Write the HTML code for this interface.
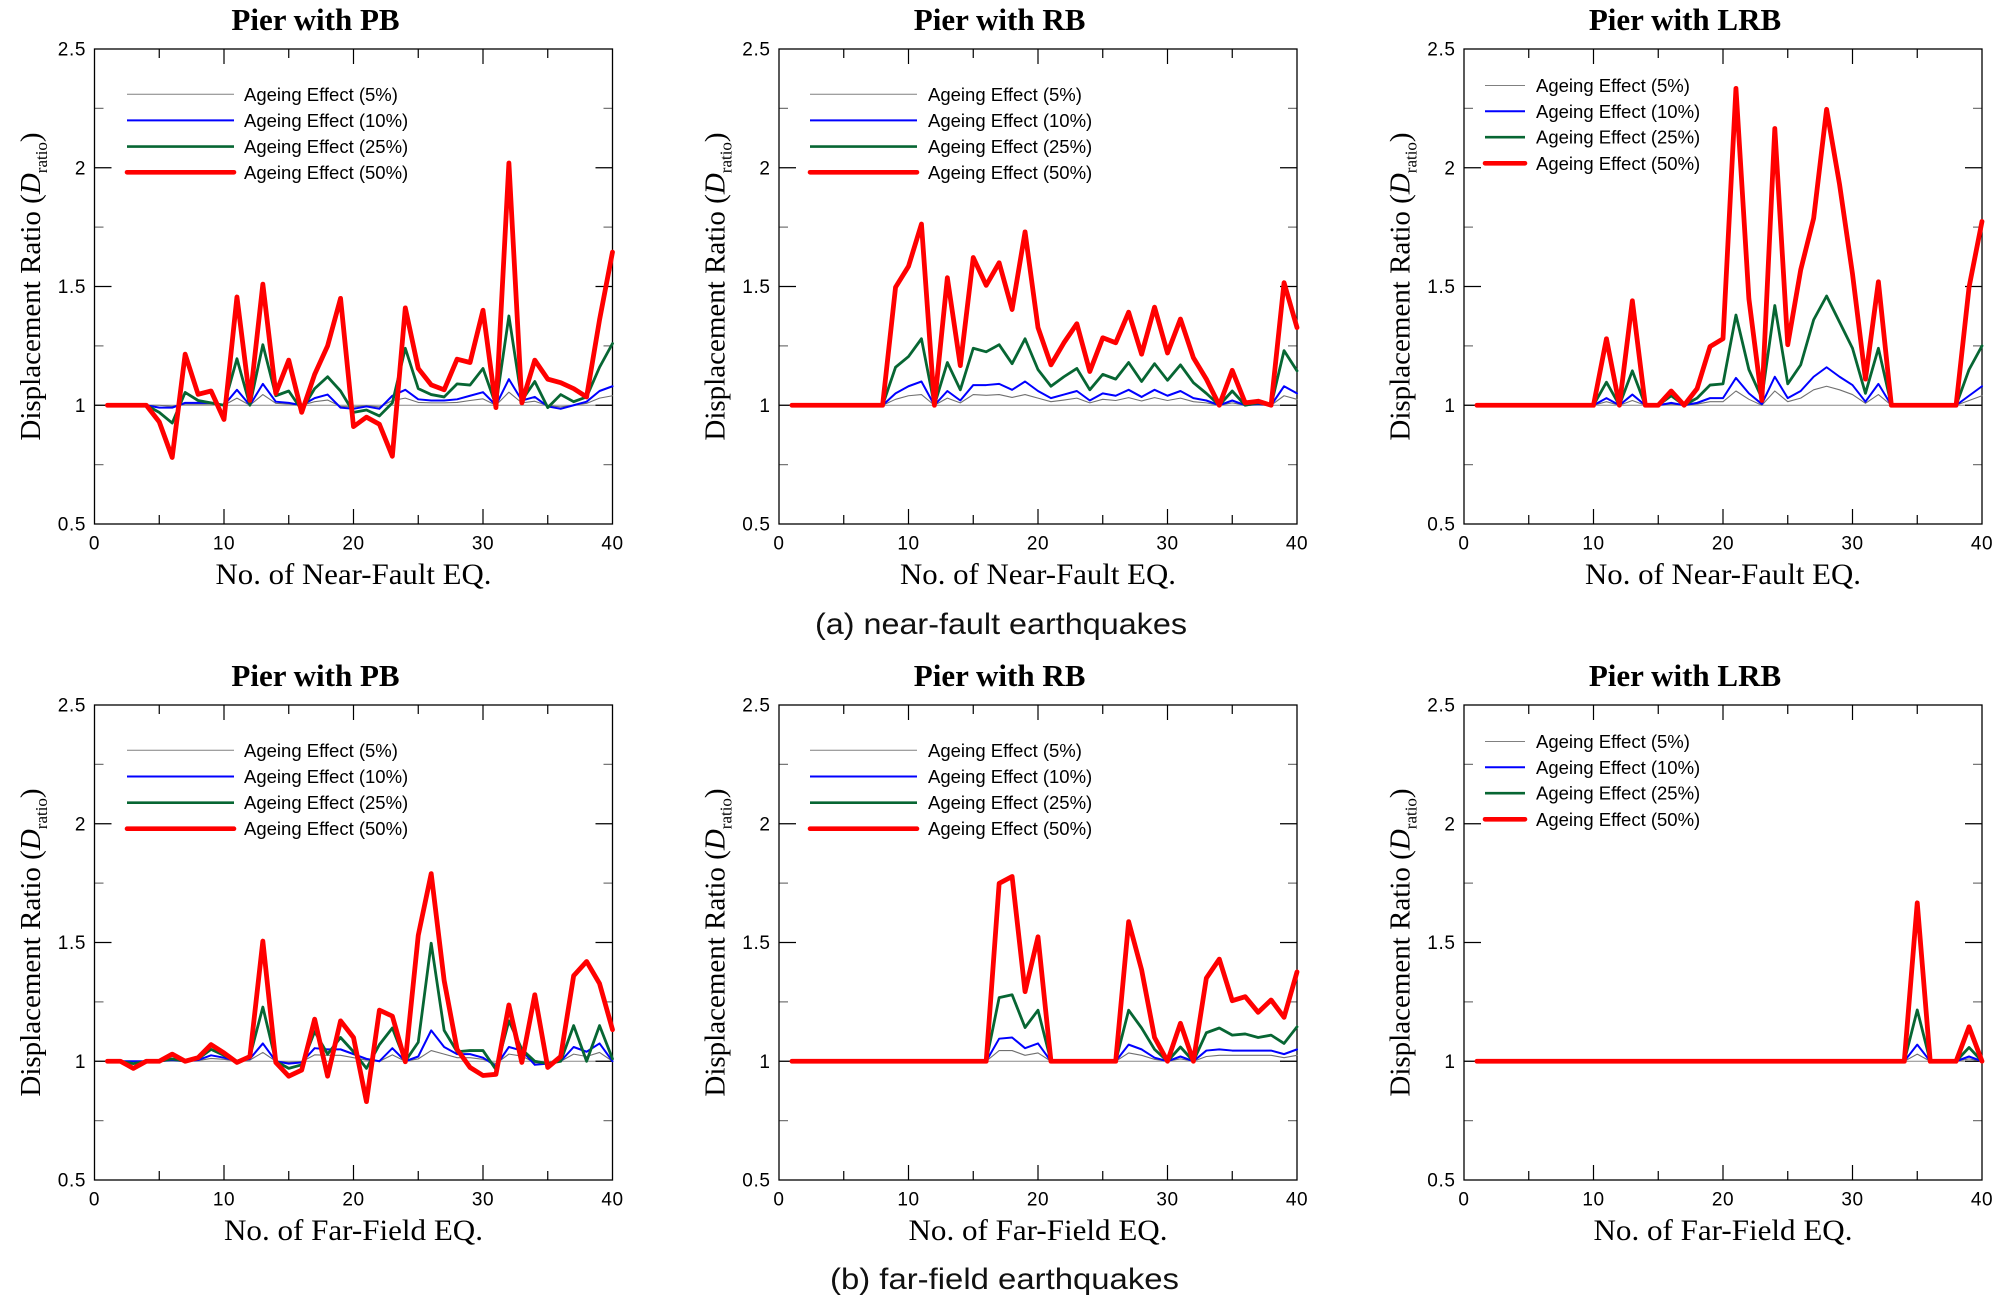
<!DOCTYPE html>
<html>
<head>
<meta charset="utf-8">
<style>
  html,body{margin:0;padding:0;background:#fff;}
  body{width:2008px;height:1297px;overflow:hidden;}
  svg{display:block;}
  .ns{vector-effect:non-scaling-stroke;fill:none;stroke-linejoin:round;stroke-linecap:round;}
  .g5{stroke:#707070;stroke-width:1.1;}
  .b10{stroke:#0000ff;stroke-width:2;}
  .g25{stroke:#076633;stroke-width:2.8;}
  .r50{stroke:#ff0000;stroke-width:4.8;}
  .tick{font-family:"Liberation Sans",Arial,sans-serif;font-size:19px;fill:#000;letter-spacing:0.6px;}
  .leg{font-family:"Liberation Sans",Arial,sans-serif;font-size:18.5px;fill:#000;}
  .ttl{font-family:"Liberation Serif","Times New Roman",serif;font-size:31px;font-weight:bold;fill:#000;}
  .xl{font-family:"Liberation Serif","Times New Roman",serif;font-size:30px;fill:#000;}
  .yl{font-family:"Liberation Serif","Times New Roman",serif;font-size:29px;fill:#000;}
  .cap{font-family:"Liberation Sans",Arial,sans-serif;font-size:30px;fill:#111;}
</style>
</head>
<body>
<svg width="2008" height="1297" viewBox="0 0 2008 1297" xmlns="http://www.w3.org/2000/svg">
<rect x="0" y="0" width="2008" height="1297" fill="#fff"/>

<!-- ============ FRAMES & TICKS ============ -->
<g id="frames" fill="none">
  <!-- top row -->
  <g transform="translate(94.5,49)">
    <path d="M0 356.25H518" stroke="#888" stroke-width="1"/>
    <path d="M129.5 475v-15M259 475v-15M388.5 475v-15M129.5 0v15M259 0v15M388.5 0v15M64.75 475v-9M194.25 475v-9M323.75 475v-9M453.25 475v-9M64.75 0v9M194.25 0v9M323.75 0v9M453.25 0v9M0 118.75h17M0 237.5h17M0 356.25h17M518 118.75h-17M518 237.5h-17M518 356.25h-17" stroke="#000" stroke-width="1.2"/>
    <path d="M0 59.375h9M0 178.125h9M0 296.875h9M0 415.625h9M518 59.375h-9M518 178.125h-9M518 296.875h-9M518 415.625h-9" stroke="#777" stroke-width="1.2"/>
    <rect x="0" y="0" width="518" height="475" stroke="#000" stroke-width="1.3"/>
  </g>
  <g transform="translate(779,49)">
    <path d="M0 356.25H518" stroke="#888" stroke-width="1"/>
    <path d="M129.5 475v-15M259 475v-15M388.5 475v-15M129.5 0v15M259 0v15M388.5 0v15M64.75 475v-9M194.25 475v-9M323.75 475v-9M453.25 475v-9M64.75 0v9M194.25 0v9M323.75 0v9M453.25 0v9M0 118.75h17M0 237.5h17M0 356.25h17M518 118.75h-17M518 237.5h-17M518 356.25h-17" stroke="#000" stroke-width="1.2"/>
    <path d="M0 59.375h9M0 178.125h9M0 296.875h9M0 415.625h9M518 59.375h-9M518 178.125h-9M518 296.875h-9M518 415.625h-9" stroke="#777" stroke-width="1.2"/>
    <rect x="0" y="0" width="518" height="475" stroke="#000" stroke-width="1.3"/>
  </g>
  <g transform="translate(1464,49)">
    <path d="M0 356.25H518" stroke="#888" stroke-width="1"/>
    <path d="M129.5 475v-15M259 475v-15M388.5 475v-15M129.5 0v15M259 0v15M388.5 0v15M64.75 475v-9M194.25 475v-9M323.75 475v-9M453.25 475v-9M64.75 0v9M194.25 0v9M323.75 0v9M453.25 0v9M0 118.75h17M0 237.5h17M0 356.25h17M518 118.75h-17M518 237.5h-17M518 356.25h-17" stroke="#000" stroke-width="1.2"/>
    <path d="M0 59.375h9M0 178.125h9M0 296.875h9M0 415.625h9M518 59.375h-9M518 178.125h-9M518 296.875h-9M518 415.625h-9" stroke="#777" stroke-width="1.2"/>
    <rect x="0" y="0" width="518" height="475" stroke="#000" stroke-width="1.3"/>
  </g>
  <!-- bottom row -->
  <g transform="translate(94.5,705)">
    <path d="M0 356.25H518" stroke="#888" stroke-width="1"/>
    <path d="M129.5 475v-15M259 475v-15M388.5 475v-15M129.5 0v15M259 0v15M388.5 0v15M64.75 475v-9M194.25 475v-9M323.75 475v-9M453.25 475v-9M64.75 0v9M194.25 0v9M323.75 0v9M453.25 0v9M0 118.75h17M0 237.5h17M0 356.25h17M518 118.75h-17M518 237.5h-17M518 356.25h-17" stroke="#000" stroke-width="1.2"/>
    <path d="M0 59.375h9M0 178.125h9M0 296.875h9M0 415.625h9M518 59.375h-9M518 178.125h-9M518 296.875h-9M518 415.625h-9" stroke="#777" stroke-width="1.2"/>
    <rect x="0" y="0" width="518" height="475" stroke="#000" stroke-width="1.3"/>
  </g>
  <g transform="translate(779,705)">
    <path d="M0 356.25H518" stroke="#888" stroke-width="1"/>
    <path d="M129.5 475v-15M259 475v-15M388.5 475v-15M129.5 0v15M259 0v15M388.5 0v15M64.75 475v-9M194.25 475v-9M323.75 475v-9M453.25 475v-9M64.75 0v9M194.25 0v9M323.75 0v9M453.25 0v9M0 118.75h17M0 237.5h17M0 356.25h17M518 118.75h-17M518 237.5h-17M518 356.25h-17" stroke="#000" stroke-width="1.2"/>
    <path d="M0 59.375h9M0 178.125h9M0 296.875h9M0 415.625h9M518 59.375h-9M518 178.125h-9M518 296.875h-9M518 415.625h-9" stroke="#777" stroke-width="1.2"/>
    <rect x="0" y="0" width="518" height="475" stroke="#000" stroke-width="1.3"/>
  </g>
  <g transform="translate(1464,705)">
    <path d="M0 356.25H518" stroke="#888" stroke-width="1"/>
    <path d="M129.5 475v-15M259 475v-15M388.5 475v-15M129.5 0v15M259 0v15M388.5 0v15M64.75 475v-9M194.25 475v-9M323.75 475v-9M453.25 475v-9M64.75 0v9M194.25 0v9M323.75 0v9M453.25 0v9M0 118.75h17M0 237.5h17M0 356.25h17M518 118.75h-17M518 237.5h-17M518 356.25h-17" stroke="#000" stroke-width="1.2"/>
    <path d="M0 59.375h9M0 178.125h9M0 296.875h9M0 415.625h9M518 59.375h-9M518 178.125h-9M518 296.875h-9M518 415.625h-9" stroke="#777" stroke-width="1.2"/>
    <rect x="0" y="0" width="518" height="475" stroke="#000" stroke-width="1.3"/>
  </g>
</g>

<!-- ============ DATA ============ -->
<!-- Panel 1: PB near-fault -->
<g transform="translate(94.5,642.75) scale(12.95,-237.5)">
  <polyline class="ns g5" points="1,1 4,1 5,1 6,0.995 7,1.005 8,1.005 9,1.005 10,1 11,1.03 12,1 13,1.045 14,1.008 15,1.005 16,1 17,1.015 18,1.022 19,0.995 20,0.993 21,0.998 22,0.993 23,1.02 24,1.03 25,1.012 26,1.01 27,1.01 28,1.012 29,1.02 30,1.027 31,1 32,1.055 33,1.01 34,1.017 35,0.998 36,0.993 37,1 38,1.008 39,1.03 40,1.04"/>
  <polyline class="ns b10" points="1,1 4,1 5,0.99 6,0.99 7,1.01 8,1.01 9,1.01 10,1 11,1.065 12,1 13,1.09 14,1.015 15,1.01 16,1 17,1.03 18,1.045 19,0.99 20,0.985 21,0.995 22,0.985 23,1.04 24,1.065 25,1.025 26,1.02 27,1.02 28,1.025 29,1.04 30,1.055 31,1 32,1.11 33,1.02 34,1.035 35,0.995 36,0.985 37,1 38,1.015 39,1.06 40,1.08"/>
  <polyline class="ns g25" points="1,1 4,1 5,0.97 6,0.925 7,1.054 8,1.02 9,1.01 10,1 11,1.196 12,1 13,1.255 14,1.04 15,1.06 16,0.98 17,1.07 18,1.12 19,1.06 20,0.97 21,0.98 22,0.955 23,1.01 24,1.24 25,1.07 26,1.045 27,1.035 28,1.09 29,1.085 30,1.155 31,1 32,1.376 33,1.02 34,1.1 35,0.99 36,1.045 37,1.015 38,1.035 39,1.16 40,1.26"/>
  <polyline class="ns r50" points="1,1 4,1 5,0.93 6,0.78 7,1.215 8,1.046 9,1.06 10,0.94 11,1.456 12,1.02 13,1.51 14,1.05 15,1.19 16,0.97 17,1.13 18,1.25 19,1.45 20,0.91 21,0.95 22,0.92 23,0.785 24,1.41 25,1.155 26,1.086 27,1.065 28,1.194 29,1.18 30,1.4 31,0.99 32,2.02 33,1.01 34,1.19 35,1.11 36,1.095 37,1.07 38,1.035 39,1.36 40,1.645"/>
</g>

<!-- Panel 2: RB near-fault -->
<g transform="translate(779,642.75) scale(12.95,-237.5)">
  <polyline class="ns g5" points="1,1 8,1 9,1.025 10,1.04 11,1.045 12,1 13,1.03 14,1.01 15,1.045 16,1.042 17,1.045 18,1.033 19,1.045 20,1.03 21,1.015 22,1.022 23,1.03 24,1.01 25,1.025 26,1.02 27,1.032 28,1.018 29,1.032 30,1.02 31,1.03 32,1.015 33,1.01 34,1 35,1.01 36,1 37,1.002 38,1 39,1.04 40,1.025"/>
  <polyline class="ns b10" points="1,1 8,1 9,1.05 10,1.08 11,1.1 12,1 13,1.06 14,1.02 15,1.085 16,1.085 17,1.09 18,1.065 19,1.1 20,1.06 21,1.03 22,1.045 23,1.06 24,1.02 25,1.05 26,1.04 27,1.065 28,1.035 29,1.065 30,1.04 31,1.06 32,1.03 33,1.02 34,1 35,1.02 36,1 37,1.005 38,1 39,1.08 40,1.05"/>
  <polyline class="ns g25" points="1,1 8,1 9,1.16 10,1.205 11,1.28 12,1 13,1.18 14,1.065 15,1.24 16,1.225 17,1.255 18,1.175 19,1.28 20,1.15 21,1.08 22,1.12 23,1.155 24,1.065 25,1.13 26,1.11 27,1.18 28,1.1 29,1.175 30,1.105 31,1.17 32,1.095 33,1.05 34,1 35,1.06 36,1 37,1.01 38,1 39,1.23 40,1.145"/>
  <polyline class="ns r50" points="1,1 8,1 9,1.497 10,1.585 11,1.763 12,1 13,1.537 14,1.167 15,1.622 16,1.505 17,1.6 18,1.403 19,1.73 20,1.327 21,1.17 22,1.263 23,1.343 24,1.142 25,1.284 26,1.263 27,1.392 28,1.215 29,1.413 30,1.22 31,1.363 32,1.2 33,1.11 34,1 35,1.147 36,1.01 37,1.017 38,1 39,1.516 40,1.327"/>
</g>

<!-- Panel 3: LRB near-fault -->
<g transform="translate(1464,642.75) scale(12.95,-237.5)">
  <polyline class="ns g5" points="1,1 10,1 11,1.015 12,1 13,1.02 14,1 15,1 16,1.005 17,1 18,1.005 19,1.015 20,1.015 21,1.06 22,1.025 23,1 24,1.06 25,1.015 26,1.03 27,1.065 28,1.08 29,1.065 30,1.045 31,1.008 32,1.045 33,1 38,1 39,1.02 40,1.04"/>
  <polyline class="ns b10" points="1,1 10,1 11,1.03 12,1 13,1.045 14,1 15,1 16,1.01 17,1 18,1.01 19,1.03 20,1.03 21,1.115 22,1.05 23,1.005 24,1.12 25,1.03 26,1.06 27,1.12 28,1.16 29,1.12 30,1.085 31,1.015 32,1.09 33,1 38,1 39,1.04 40,1.08"/>
  <polyline class="ns g25" points="1,1 10,1 11,1.097 12,1 13,1.145 14,1 15,1 16,1.04 17,1 18,1.03 19,1.085 20,1.09 21,1.38 22,1.15 23,1.03 24,1.42 25,1.09 26,1.17 27,1.36 28,1.46 29,1.35 30,1.24 31,1.05 32,1.24 33,1 38,1 39,1.15 40,1.25"/>
  <polyline class="ns r50" points="1,1 10,1 11,1.28 12,1 13,1.44 14,1 15,1 16,1.06 17,1 18,1.07 19,1.247 20,1.28 21,2.334 22,1.448 23,1.02 24,2.165 25,1.255 26,1.57 27,1.787 28,2.246 29,1.93 30,1.553 31,1.11 32,1.52 33,1 38,1 39,1.497 40,1.774"/>
</g>

<!-- Panel 4: PB far-field -->
<g transform="translate(94.5,1298.75) scale(12.95,-237.5)">
  <polyline class="ns g5" points="1,1 5,1 6,1.003 7,1 8,1.003 9,1.012 10,1.008 11,1 12,1.005 13,1.037 14,1 15,0.995 16,0.998 17,1.027 18,1.025 19,1.025 20,1.015 21,1.005 22,1 23,1.027 24,1 25,1.01 26,1.045 27,1.03 28,1.015 29,1.015 30,1.008 31,0.99 32,1.03 33,1.022 34,0.993 35,0.995 36,1 37,1.03 38,1.02 39,1.037 40,1"/>
  <polyline class="ns b10" points="1,1 5,1 6,1.005 7,1 8,1.005 9,1.025 10,1.015 11,1 12,1.01 13,1.075 14,1 15,0.99 16,0.995 17,1.055 18,1.05 19,1.05 20,1.03 21,1.01 22,1 23,1.055 24,1 25,1.02 26,1.13 27,1.06 28,1.03 29,1.03 30,1.015 31,0.98 32,1.06 33,1.045 34,0.985 35,0.99 36,1 37,1.06 38,1.04 39,1.075 40,1"/>
  <polyline class="ns g25" points="1,1 2,1 3,0.99 4,1 5,1 6,1.01 7,1 8,1.01 9,1.05 10,1.025 11,1 12,1.02 13,1.228 14,1 15,0.97 16,0.985 17,1.125 18,1.03 19,1.1 20,1.04 21,0.97 22,1.07 23,1.14 24,1 25,1.08 26,1.497 27,1.13 28,1.04 29,1.045 30,1.045 31,0.965 32,1.17 33,1.05 34,1 35,0.99 36,1 37,1.15 38,1 39,1.15 40,1.01"/>
  <polyline class="ns r50" points="1,1 2,1 3,0.97 4,1 5,1 6,1.03 7,1 8,1.015 9,1.07 10,1.035 11,0.995 12,1.02 13,1.506 14,0.995 15,0.937 16,0.963 17,1.177 18,0.937 19,1.17 20,1.1 21,0.83 22,1.215 23,1.19 24,0.998 25,1.53 26,1.79 27,1.34 28,1.05 29,0.974 30,0.94 31,0.945 32,1.237 33,0.995 34,1.28 35,0.974 36,1.02 37,1.36 38,1.42 39,1.327 40,1.133"/>
</g>

<!-- Panel 5: RB far-field -->
<g transform="translate(779,1298.75) scale(12.95,-237.5)">
  <polyline class="ns g5" points="1,1 16,1 17,1.045 18,1.045 19,1.025 20,1.035 21,1 26,1 27,1.035 28,1.025 29,1.008 30,1 31,1.01 32,1 33,1.02 34,1.025 35,1.025 36,1.025 37,1.025 38,1.025 39,1.015 40,1.025"/>
  <polyline class="ns b10" points="1,1 16,1 17,1.095 18,1.1 19,1.055 20,1.075 21,1 26,1 27,1.07 28,1.05 29,1.015 30,1 31,1.02 32,1 33,1.045 34,1.05 35,1.045 36,1.045 37,1.045 38,1.045 39,1.03 40,1.05"/>
  <polyline class="ns g25" points="1,1 16,1 17,1.268 18,1.28 19,1.142 20,1.215 21,1 26,1 27,1.215 28,1.14 29,1.05 30,1 31,1.06 32,1 33,1.12 34,1.14 35,1.11 36,1.115 37,1.1 38,1.11 39,1.075 40,1.145"/>
  <polyline class="ns r50" points="1,1 16,1 17,1.749 18,1.778 19,1.293 20,1.524 21,1 26,1 27,1.588 28,1.385 29,1.1 30,1 31,1.16 32,1 33,1.35 34,1.43 35,1.255 36,1.272 37,1.206 38,1.258 39,1.185 40,1.376"/>
</g>

<!-- Panel 6: LRB far-field -->
<g transform="translate(1464,1298.75) scale(12.95,-237.5)">
  <polyline class="ns g5" points="1,1 34,1 35,1.03 36,1 38,1 39,1.01 40,1"/>
  <polyline class="ns b10" points="1,1 34,1 35,1.07 36,1 38,1 39,1.02 40,1"/>
  <polyline class="ns g25" points="1,1 34,1 35,1.216 36,1 38,1 39,1.058 40,1"/>
  <polyline class="ns r50" points="1,1 34,1 35,1.667 36,1 38,1 39,1.145 40,1"/>
</g>

<!-- ============ LEGENDS ============ -->
<g fill="none" stroke-linecap="butt">
  <!-- P1 -->
  <line x1="127" y1="94.3" x2="234" y2="94.3" stroke="#808080" stroke-width="1"/>
  <line x1="127" y1="120.4" x2="234" y2="120.4" stroke="#0000ff" stroke-width="2"/>
  <line x1="127" y1="146.6" x2="234" y2="146.6" stroke="#076633" stroke-width="2.6"/>
  <line x1="127" y1="172.3" x2="234" y2="172.3" stroke="#ff0000" stroke-width="4.6" stroke-linecap="round"/>
  <!-- P2 -->
  <line x1="810" y1="94.3" x2="917" y2="94.3" stroke="#808080" stroke-width="1"/>
  <line x1="810" y1="120.4" x2="917" y2="120.4" stroke="#0000ff" stroke-width="2"/>
  <line x1="810" y1="146.6" x2="917" y2="146.6" stroke="#076633" stroke-width="2.6"/>
  <line x1="810" y1="172.3" x2="917" y2="172.3" stroke="#ff0000" stroke-width="4.6" stroke-linecap="round"/>
  <!-- P3 -->
  <line x1="1485" y1="85.5" x2="1525" y2="85.5" stroke="#808080" stroke-width="1"/>
  <line x1="1485" y1="111.3" x2="1525" y2="111.3" stroke="#0000ff" stroke-width="2"/>
  <line x1="1485" y1="137.2" x2="1525" y2="137.2" stroke="#076633" stroke-width="2.6"/>
  <line x1="1485" y1="163.3" x2="1525" y2="163.3" stroke="#ff0000" stroke-width="4.6" stroke-linecap="round"/>
  <!-- P4 -->
  <line x1="127" y1="750.3" x2="234" y2="750.3" stroke="#808080" stroke-width="1"/>
  <line x1="127" y1="776.5" x2="234" y2="776.5" stroke="#0000ff" stroke-width="2"/>
  <line x1="127" y1="802.7" x2="234" y2="802.7" stroke="#076633" stroke-width="2.6"/>
  <line x1="127" y1="828.7" x2="234" y2="828.7" stroke="#ff0000" stroke-width="4.6" stroke-linecap="round"/>
  <!-- P5 -->
  <line x1="810" y1="750.3" x2="917" y2="750.3" stroke="#808080" stroke-width="1"/>
  <line x1="810" y1="776.5" x2="917" y2="776.5" stroke="#0000ff" stroke-width="2"/>
  <line x1="810" y1="802.7" x2="917" y2="802.7" stroke="#076633" stroke-width="2.6"/>
  <line x1="810" y1="828.7" x2="917" y2="828.7" stroke="#ff0000" stroke-width="4.6" stroke-linecap="round"/>
  <!-- P6 -->
  <line x1="1485" y1="741.5" x2="1525" y2="741.5" stroke="#808080" stroke-width="1"/>
  <line x1="1485" y1="767.3" x2="1525" y2="767.3" stroke="#0000ff" stroke-width="2"/>
  <line x1="1485" y1="793.2" x2="1525" y2="793.2" stroke="#076633" stroke-width="2.6"/>
  <line x1="1485" y1="819.3" x2="1525" y2="819.3" stroke="#ff0000" stroke-width="4.6" stroke-linecap="round"/>
</g>
<g class="leg">
  <text x="244" y="100.8">Ageing Effect (5%)</text>
  <text x="244" y="126.9">Ageing Effect (10%)</text>
  <text x="244" y="153.1">Ageing Effect (25%)</text>
  <text x="244" y="178.8">Ageing Effect (50%)</text>

  <text x="928" y="100.8">Ageing Effect (5%)</text>
  <text x="928" y="126.9">Ageing Effect (10%)</text>
  <text x="928" y="153.1">Ageing Effect (25%)</text>
  <text x="928" y="178.8">Ageing Effect (50%)</text>

  <text x="1536" y="92">Ageing Effect (5%)</text>
  <text x="1536" y="117.8">Ageing Effect (10%)</text>
  <text x="1536" y="143.7">Ageing Effect (25%)</text>
  <text x="1536" y="169.8">Ageing Effect (50%)</text>

  <text x="244" y="756.8">Ageing Effect (5%)</text>
  <text x="244" y="783">Ageing Effect (10%)</text>
  <text x="244" y="809.2">Ageing Effect (25%)</text>
  <text x="244" y="835.2">Ageing Effect (50%)</text>

  <text x="928" y="756.8">Ageing Effect (5%)</text>
  <text x="928" y="783">Ageing Effect (10%)</text>
  <text x="928" y="809.2">Ageing Effect (25%)</text>
  <text x="928" y="835.2">Ageing Effect (50%)</text>

  <text x="1536" y="748">Ageing Effect (5%)</text>
  <text x="1536" y="773.8">Ageing Effect (10%)</text>
  <text x="1536" y="799.7">Ageing Effect (25%)</text>
  <text x="1536" y="825.8">Ageing Effect (50%)</text>
</g>

<!-- ============ TICK LABELS ============ -->
<g class="tick" text-anchor="end">
  <!-- top row y labels -->
  <text x="86" y="55.5">2.5</text><text x="86" y="174.25">2</text><text x="86" y="293">1.5</text><text x="86" y="411.75">1</text><text x="86" y="530.5">0.5</text>
  <text x="770.5" y="55.5">2.5</text><text x="770.5" y="174.25">2</text><text x="770.5" y="293">1.5</text><text x="770.5" y="411.75">1</text><text x="770.5" y="530.5">0.5</text>
  <text x="1455.5" y="55.5">2.5</text><text x="1455.5" y="174.25">2</text><text x="1455.5" y="293">1.5</text><text x="1455.5" y="411.75">1</text><text x="1455.5" y="530.5">0.5</text>
  <!-- bottom row y labels -->
  <text x="86" y="711.5">2.5</text><text x="86" y="830.25">2</text><text x="86" y="949">1.5</text><text x="86" y="1067.75">1</text><text x="86" y="1186.5">0.5</text>
  <text x="770.5" y="711.5">2.5</text><text x="770.5" y="830.25">2</text><text x="770.5" y="949">1.5</text><text x="770.5" y="1067.75">1</text><text x="770.5" y="1186.5">0.5</text>
  <text x="1455.5" y="711.5">2.5</text><text x="1455.5" y="830.25">2</text><text x="1455.5" y="949">1.5</text><text x="1455.5" y="1067.75">1</text><text x="1455.5" y="1186.5">0.5</text>
</g>
<g class="tick" text-anchor="middle">
  <text x="94.5" y="549.5">0</text><text x="224" y="549.5">10</text><text x="353.5" y="549.5">20</text><text x="483" y="549.5">30</text><text x="612.5" y="549.5">40</text>
  <text x="779" y="549.5">0</text><text x="908.5" y="549.5">10</text><text x="1038" y="549.5">20</text><text x="1167.5" y="549.5">30</text><text x="1297" y="549.5">40</text>
  <text x="1464" y="549.5">0</text><text x="1593.5" y="549.5">10</text><text x="1723" y="549.5">20</text><text x="1852.5" y="549.5">30</text><text x="1982" y="549.5">40</text>

  <text x="94.5" y="1205.5">0</text><text x="224" y="1205.5">10</text><text x="353.5" y="1205.5">20</text><text x="483" y="1205.5">30</text><text x="612.5" y="1205.5">40</text>
  <text x="779" y="1205.5">0</text><text x="908.5" y="1205.5">10</text><text x="1038" y="1205.5">20</text><text x="1167.5" y="1205.5">30</text><text x="1297" y="1205.5">40</text>
  <text x="1464" y="1205.5">0</text><text x="1593.5" y="1205.5">10</text><text x="1723" y="1205.5">20</text><text x="1852.5" y="1205.5">30</text><text x="1982" y="1205.5">40</text>
</g>

<!-- ============ TITLES ============ -->
<g class="ttl" text-anchor="middle">
  <text x="315.5" y="30">Pier with PB</text>
  <text x="999.6" y="30">Pier with RB</text>
  <text x="1685" y="30">Pier with LRB</text>
  <text x="315.5" y="686">Pier with PB</text>
  <text x="999.6" y="686">Pier with RB</text>
  <text x="1685" y="686">Pier with LRB</text>
</g>

<!-- ============ X AXIS LABELS ============ -->
<g class="xl" text-anchor="middle">
  <text x="353.5" y="584" textLength="276" lengthAdjust="spacingAndGlyphs">No. of Near-Fault EQ.</text>
  <text x="1038" y="584" textLength="276" lengthAdjust="spacingAndGlyphs">No. of Near-Fault EQ.</text>
  <text x="1723" y="584" textLength="276" lengthAdjust="spacingAndGlyphs">No. of Near-Fault EQ.</text>
  <text x="353.5" y="1240" textLength="259" lengthAdjust="spacingAndGlyphs">No. of Far-Field EQ.</text>
  <text x="1038" y="1240" textLength="259" lengthAdjust="spacingAndGlyphs">No. of Far-Field EQ.</text>
  <text x="1723" y="1240" textLength="259" lengthAdjust="spacingAndGlyphs">No. of Far-Field EQ.</text>
</g>

<!-- ============ Y AXIS LABELS ============ -->
<g class="yl" text-anchor="middle">
  <text transform="translate(40,286.5) rotate(-90)">Displacement Ratio (<tspan font-style="italic">D</tspan><tspan font-size="17" dy="7">ratio</tspan><tspan dy="-7">)</tspan></text>
  <text transform="translate(724.5,286.5) rotate(-90)">Displacement Ratio (<tspan font-style="italic">D</tspan><tspan font-size="17" dy="7">ratio</tspan><tspan dy="-7">)</tspan></text>
  <text transform="translate(1409.5,286.5) rotate(-90)">Displacement Ratio (<tspan font-style="italic">D</tspan><tspan font-size="17" dy="7">ratio</tspan><tspan dy="-7">)</tspan></text>
  <text transform="translate(40,942.5) rotate(-90)">Displacement Ratio (<tspan font-style="italic">D</tspan><tspan font-size="17" dy="7">ratio</tspan><tspan dy="-7">)</tspan></text>
  <text transform="translate(724.5,942.5) rotate(-90)">Displacement Ratio (<tspan font-style="italic">D</tspan><tspan font-size="17" dy="7">ratio</tspan><tspan dy="-7">)</tspan></text>
  <text transform="translate(1409.5,942.5) rotate(-90)">Displacement Ratio (<tspan font-style="italic">D</tspan><tspan font-size="17" dy="7">ratio</tspan><tspan dy="-7">)</tspan></text>
</g>

<!-- ============ CAPTIONS ============ -->
<g class="cap" text-anchor="middle">
  <text x="1001" y="634" textLength="372" lengthAdjust="spacingAndGlyphs">(a) near-fault earthquakes</text>
  <text x="1004.5" y="1289" textLength="349" lengthAdjust="spacingAndGlyphs">(b) far-field earthquakes</text>
</g>
</svg>
</body>
</html>
